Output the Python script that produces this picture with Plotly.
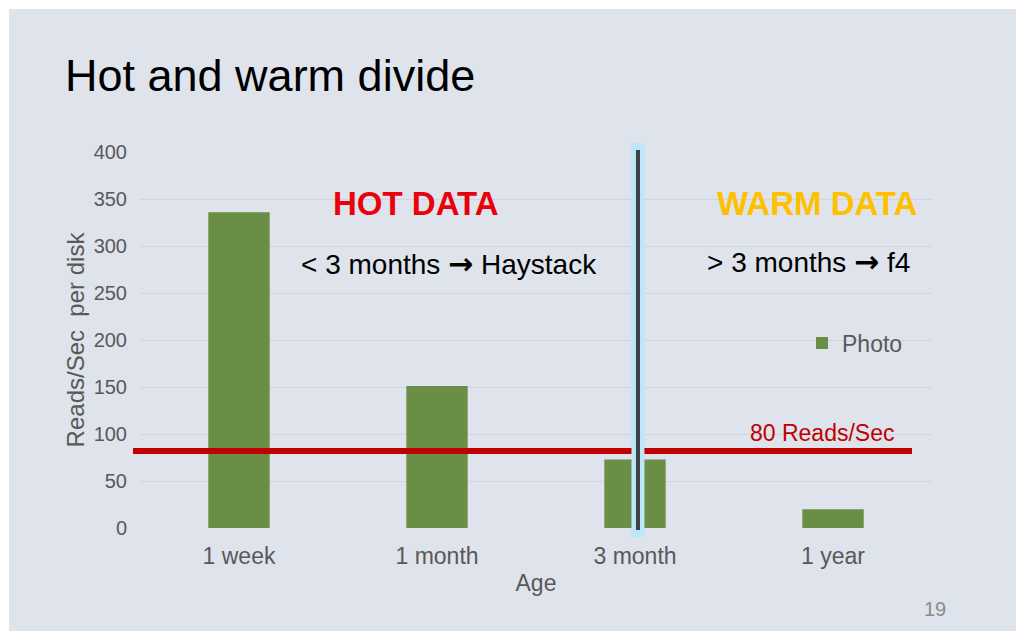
import plotly.graph_objects as go

# ---- data ----
categories = ["1 week", "1 month", "3 month", "1 year"]
photo_reads = [336, 151, 73, 20]
series_name = "Photo"
threshold = 82          # "80 Reads/Sec" line as drawn
divide_category = "3 month"
y_ticks = [0, 50, 100, 150, 200, 250, 300, 350, 400]

# ---- layout helpers (pixel geometry of the slide) ----
W, H = 1024, 640
L, R, T, B = 140, 932, 152, 528   # plot area in pixels


def px(xp):
    return (xp - L) / (R - L)


def py(yp):
    return (B - yp) / (B - T)


SLIDE_BG = "#DEE3EC"
GRID = "#D0D5DD"
GREEN = "#6B8E46"
TICK_GRAY = "#595959"

fig = go.Figure()
fig.add_trace(go.Bar(
    x=categories, y=photo_reads, name=series_name,
    marker=dict(color=GREEN, line=dict(width=0)),
    width=0.31, hoverinfo="skip",
))

div_idx = categories.index(divide_category)

shapes = [
    # slide background
    dict(type="rect", xref="paper", yref="paper", layer="below",
         x0=px(9), x1=px(1016), y0=py(631), y1=py(9),
         fillcolor=SLIDE_BG, line=dict(width=0)),
    # threshold line
    dict(type="line", xref="paper", yref="y", layer="above",
         x0=px(133), x1=px(912), y0=threshold, y1=threshold,
         line=dict(color="#C00000", width=6)),
    # divide line glow
    dict(type="line", xref="x", yref="paper", layer="above",
         x0=div_idx + 0.015, x1=div_idx + 0.015, y0=py(537), y1=py(143),
         line=dict(color="#BDE6F8", width=13)),
    # divide line
    dict(type="line", xref="x", yref="paper", layer="above",
         x0=div_idx + 0.015, x1=div_idx + 0.015, y0=py(530), y1=py(150),
         line=dict(color="#3B4146", width=4)),
]

FONT = "Liberation Sans, Arial, sans-serif"
ARROW = '<span style="font-family:DejaVu Sans;font-weight:bold;font-size:30px">→</span>'

annotations = [
    dict(text="Hot and warm divide", x=px(63), y=py(75), xanchor="left", yanchor="middle",
         font=dict(size=45, color="#000000", family=FONT)),
    dict(text="<b>HOT DATA</b>", x=px(416), y=py(203), xanchor="center", yanchor="middle",
         font=dict(size=33, color="#E8000B", family=FONT)),
    dict(text="<b>WARM DATA</b>", x=px(817), y=py(203), xanchor="center", yanchor="middle",
         font=dict(size=33, color="#FFC000", family=FONT)),
    dict(text="< 3 months " + ARROW + " Haystack", x=px(449), y=py(263),
         xanchor="center", yanchor="middle",
         font=dict(size=28, color="#000000", family=FONT)),
    dict(text="> 3 months " + ARROW + " f4", x=px(808), y=py(261),
         xanchor="center", yanchor="middle",
         font=dict(size=28, color="#000000", family=FONT)),
    dict(text="80 Reads/Sec", x=px(822), y=py(433), xanchor="center", yanchor="middle",
         font=dict(size=23, color="#C00000", family=FONT)),
    dict(text="19", x=px(935), y=py(609), xanchor="center", yanchor="middle",
         font=dict(size=20, color="#8C8C8C", family=FONT)),
]
for a in annotations:
    a.update(xref="paper", yref="paper", showarrow=False)

fig.update_layout(
    width=W, height=H,
    margin=dict(l=L, r=W - R, t=T, b=H - B, pad=0),
    paper_bgcolor="#FFFFFF",
    plot_bgcolor="rgba(0,0,0,0)",
    font=dict(family=FONT, color=TICK_GRAY, size=23),
    shapes=shapes,
    annotations=annotations,
    showlegend=True,
    legend=dict(x=px(802), y=py(343), xanchor="left", yanchor="middle",
                bgcolor="rgba(0,0,0,0)", font=dict(size=23, color=TICK_GRAY)),
    xaxis=dict(
        type="category", range=[-0.5, len(categories) - 0.5],
        showgrid=False, zeroline=False, showline=False, ticks="",
        tickfont=dict(size=23, color=TICK_GRAY),
        ticklabelstandoff=12,
        title=dict(text="Age", font=dict(size=23, color=TICK_GRAY), standoff=6),
        automargin=False,
    ),
    yaxis=dict(
        range=[0, 400], tickvals=y_ticks,
        showgrid=True, gridcolor=GRID, gridwidth=1,
        zeroline=False, showline=False, ticks="",
        tickfont=dict(size=20, color=TICK_GRAY),
        ticklabelstandoff=12,
        title=dict(text="Reads/Sec  per disk", font=dict(size=24, color=TICK_GRAY), standoff=2),
        automargin=False,
    ),
)

fig.write_html("out.html")
